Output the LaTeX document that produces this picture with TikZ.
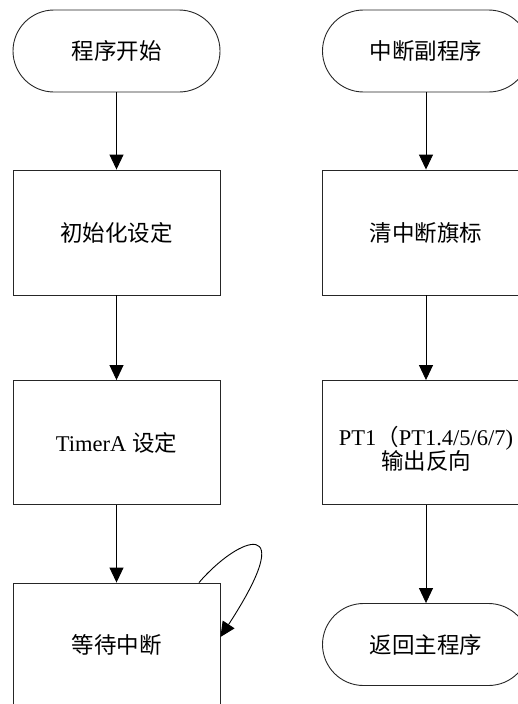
\documentclass[tikz,border=0pt]{standalone}
\usepackage{fontspec}
\setmainfont{Liberation Serif}
\newfontfamily\cjk{Noto Sans CJK SC}
\usetikzlibrary{arrows.meta}
\begin{document}
\begin{tikzpicture}[x=1pt,y=-1pt,
  box/.style={draw=black!85, line width=0.9pt, minimum width=207pt, minimum height=124pt,
    inner sep=0pt, align=center, font=\fontsize{22.5}{24}\selectfont},
  term/.style={draw=black!85, line width=0.9pt, rounded corners=41pt, minimum width=207pt,
    minimum height=82pt, inner sep=0pt, align=center, font=\fontsize{22.5}{24}\selectfont},
  arr/.style={draw=black, line width=0.9pt, -{Triangle[width=14pt,length=15pt]}}]
\useasboundingbox (0,0) rectangle (518,704);
% left column
\node[term] (start) at (116.5,51) {\cjk 程序开始};
\node[box, minimum height=125pt] (init) at (116.5,232.5) {\cjk 初始化设定};
\node[box] (timer) at (116.5,442.5) {TimerA {\cjk 设定}};
\node[box] (wait) at (116.5,645) {\cjk 等待中断};
% right column
\node[term] (isr) at (426,51) {\cjk 中断副程序};
\node[box, minimum height=125pt] (clr) at (426,232.5) {\cjk 清中断旗标};
\node[box, text depth=0pt] (pt) at (426,442.5) {};
\node[align=center, inner sep=0pt, font=\fontsize{22.5}{24}\selectfont] (ptlabel) at (426,449)
  {PT1{\cjk （}PT1.4/5/6/7)\\[0pt]{\cjk 输出反向}};
\node[term] (ret) at (426,644.5) {\cjk 返回主程序};
% connectors
\draw[arr] (start.south) -- (init.north);
\draw[arr] (init.south) -- (timer.north);
\draw[arr] (timer.south) -- (wait.north);
\draw[arr] ([xshift=82.5pt]wait.north) .. controls (240,535) and (300,515) .. ([yshift=8pt]wait.east);
\draw[arr] (isr.south) -- (clr.north);
\draw[arr] (clr.south) -- (pt.north);
\draw[arr] (pt.south) -- (ret.north);
\end{tikzpicture}
\end{document}
